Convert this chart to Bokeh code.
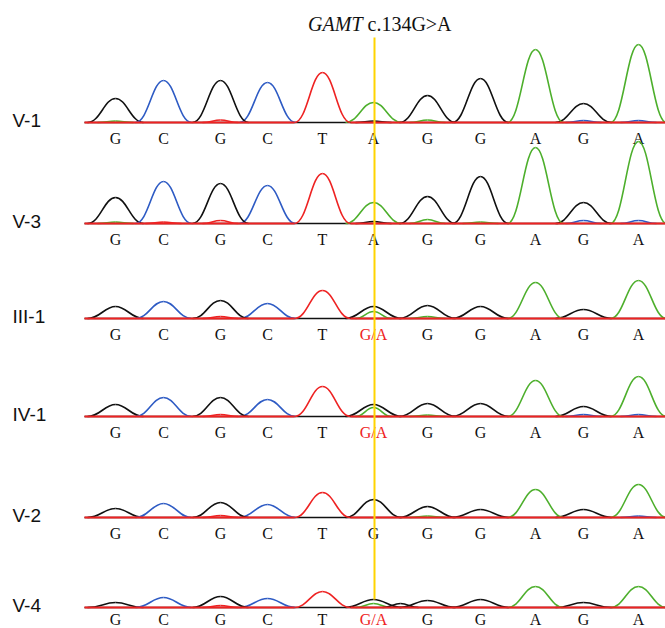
from bokeh.plotting import figure
from bokeh.models import Range1d, ColumnDataSource
from bokeh.core.properties import value
from bokeh.embed import file_html
from bokeh.resources import INLINE

# ---------------- data ----------------
title_gene = "GAMT"
title_variant = "c.134G>A"
samples = ["V-1", "V-3", "III-1", "IV-1", "V-2", "V-4"]

# scan position of each called base (trace x units)
base_pos = [115, 163, 220, 267, 322, 373, 427, 480, 535, 583, 638]
variant_index = 5
trace_start, trace_end = 84, 665

base_calls = {
    "V-1":   ["G", "C", "G", "C", "T", "A",   "G", "G", "A", "G", "A"],
    "V-3":   ["G", "C", "G", "C", "T", "A",   "G", "G", "A", "G", "A"],
    "III-1": ["G", "C", "G", "C", "T", "G/A", "G", "G", "A", "G", "A"],
    "IV-1":  ["G", "C", "G", "C", "T", "G/A", "G", "G", "A", "G", "A"],
    "V-2":   ["G", "C", "G", "C", "T", "G",   "G", "G", "A", "G", "A"],
    "V-4":   ["G", "C", "G", "C", "T", "G/A", "G", "G", "A", "G", "A"],
}

# dominant peak channel and height at each base
main_channel = {
    "V-1":   list("GCGCTAGGAGA"),
    "V-3":   list("GCGCTAGGAGA"),
    "III-1": list("GCGCTGGGAGA"),
    "IV-1":  list("GCGCTGGGAGA"),
    "V-2":   list("GCGCTGGGAGA"),
    "V-4":   list("GCGCTGGGAGA"),
}
main_height = {
    "V-1":   [24, 42, 42, 40, 50, 20, 27, 44, 73, 19, 78],
    "V-3":   [26, 42, 40, 38, 50, 21, 27, 47, 76, 21, 82],
    "III-1": [12, 17, 18, 15, 28, 12, 13, 12, 36, 9, 38],
    "IV-1":  [12, 19, 19, 17, 30, 12, 13, 13, 36, 10, 40],
    "V-2":   [9, 14, 15, 13, 25, 18, 11, 8, 28, 8, 33],
    "V-4":   [5, 10, 11, 9, 16, 8, 7, 8, 21, 5, 21],
}
# secondary peaks: (scan position, channel, height)
minor_peaks = {
    "V-1":   [(115, "A", 1.5), (220, "T", 2.5), (373, "G", 1.5), (427, "A", 2.5),
              (583, "C", 2), (638, "C", 2)],
    "V-3":   [(115, "A", 1.5), (163, "T", 1.5), (220, "T", 3), (373, "G", 2),
              (427, "A", 4), (480, "A", 1.5), (583, "C", 3), (638, "C", 3)],
    "III-1": [(220, "T", 2), (373, "A", 7), (427, "A", 2)],
    "IV-1":  [(220, "T", 2), (373, "A", 9), (427, "A", 1.5), (583, "C", 2), (638, "C", 2)],
    "V-2":   [(220, "T", 2), (427, "A", 1.5), (638, "C", 1.5)],
    "V-4":   [(220, "T", 2), (373, "A", 4), (400, "G", 4)],
}

# ---------------- styling / layout ----------------
channel_color = {"G": "#111111", "C": "#2E5BC4", "A": "#4DAF2C", "T": "#EE2222"}
yellow = "#FFD400"
W, H = 665, 628
LEFT, TOP = 0, 0
panel_baseline = [122, 223, 318, 416, 517, 607]   # page pixel of each baseline
letter_offset = [-16, -16, -16, -16, -16, -12]    # alphabetic baseline of base calls
half_w_main, half_w_minor = 28, 18

p = figure(width=W, height=H, x_range=Range1d(LEFT, LEFT + W),
           y_range=Range1d(0, H), output_backend="svg", toolbar_location=None,
           x_axis_location=None, y_axis_location=None, min_border=0,
           outline_line_color=None, background_fill_color="white",
           border_fill_color="white")
p.grid.visible = False
p.extra_y_ranges = {s: Range1d(start=b - (TOP + H), end=b - TOP)
                    for s, b in zip(samples, panel_baseline)}


def peak_halves(xs, hs, cs, ws):
    d = dict(x0=[], y0=[], x1=[], y1=[], cx0=[], cy0=[], cx1=[], cy1=[], color=[])
    for x, h, c, w in zip(xs, hs, cs, ws):
        for sgn in (-1, 1):
            d["x0"].append(x + sgn * w); d["y0"].append(0)
            d["cx0"].append(x + sgn * 0.55 * w); d["cy0"].append(0)
            d["cx1"].append(x + sgn * 0.4 * w); d["cy1"].append(h)
            d["x1"].append(x); d["y1"].append(h)
            d["color"].append(channel_color[c])
    return d


for s, lo in zip(samples, letter_offset):
    # underlying (non-red) baseline
    p.segment(x0=[trace_start], y0=[0], x1=[trace_end], y1=[0], line_color="#111111",
              line_width=1.6, y_range_name=s)
    xs = list(base_pos) + [m[0] for m in minor_peaks[s]]
    hs = list(main_height[s]) + [m[2] for m in minor_peaks[s]]
    cs = list(main_channel[s]) + [m[1] for m in minor_peaks[s]]
    ws = [half_w_main] * len(base_pos) + [half_w_minor] * len(minor_peaks[s])
    order = sorted(range(len(xs)), key=lambda i: hs[i])
    src = ColumnDataSource(peak_halves([xs[i] for i in order], [hs[i] for i in order],
                                       [cs[i] for i in order], [ws[i] for i in order]))
    p.bezier(x0="x0", y0="y0", x1="x1", y1="y1", cx0="cx0", cy0="cy0", cx1="cx1",
             cy1="cy1", line_color="color", line_width=1.6, source=src, y_range_name=s)
    # red (T channel) baseline, except under the T peaks
    t_pos = [x for x, c in zip(base_pos, main_channel[s]) if c == "T"]
    seg_x0, seg_x1, cur = [], [], trace_start
    for tx in t_pos:
        seg_x0.append(cur); seg_x1.append(tx - half_w_main); cur = tx + half_w_main
    seg_x0.append(cur); seg_x1.append(trace_end)
    p.segment(x0=seg_x0, y0=[0] * len(seg_x0), x1=seg_x1, y1=[0] * len(seg_x1),
              line_color=channel_color["T"], line_width=2, y_range_name=s)
    # sample label
    p.text(x=[12], y=[2], text=[s], text_font=value("Liberation Sans"),
           text_font_size="19px", text_baseline="middle", text_align="left",
           text_color="#111111", y_range_name=s)
    # base calls
    calls = base_calls[s]
    p.text(x=base_pos, y=[lo] * len(calls), text=calls,
           text_color=["#EE2222" if "/" in c else "#111111" for c in calls],
           text_font=value("Liberation Serif"), text_font_size="16px",
           text_align="center", text_baseline="alphabetic", y_range_name=s)

# title
title_x = base_pos[variant_index] - 11
p.text(x=[title_x], y=[99], text=[title_gene], text_font=value("Liberation Serif"),
       text_font_style="italic", text_font_size="20px", text_align="right",
       text_baseline="middle", text_color="#111111", y_range_name="V-1")
p.text(x=[title_x + 5], y=[99], text=[title_variant], text_font=value("Liberation Serif"),
       text_font_size="20px", text_align="left", text_baseline="middle",
       text_color="#111111", y_range_name="V-1")

# variant marker line
vx = base_pos[variant_index] + 1
p.segment(x0=[vx], y0=[570], x1=[vx], y1=[main_height["V-4"][variant_index]],
          line_color=yellow, line_width=2, y_range_name="V-4")

open("out.html", "w").write(file_html(p, INLINE))
